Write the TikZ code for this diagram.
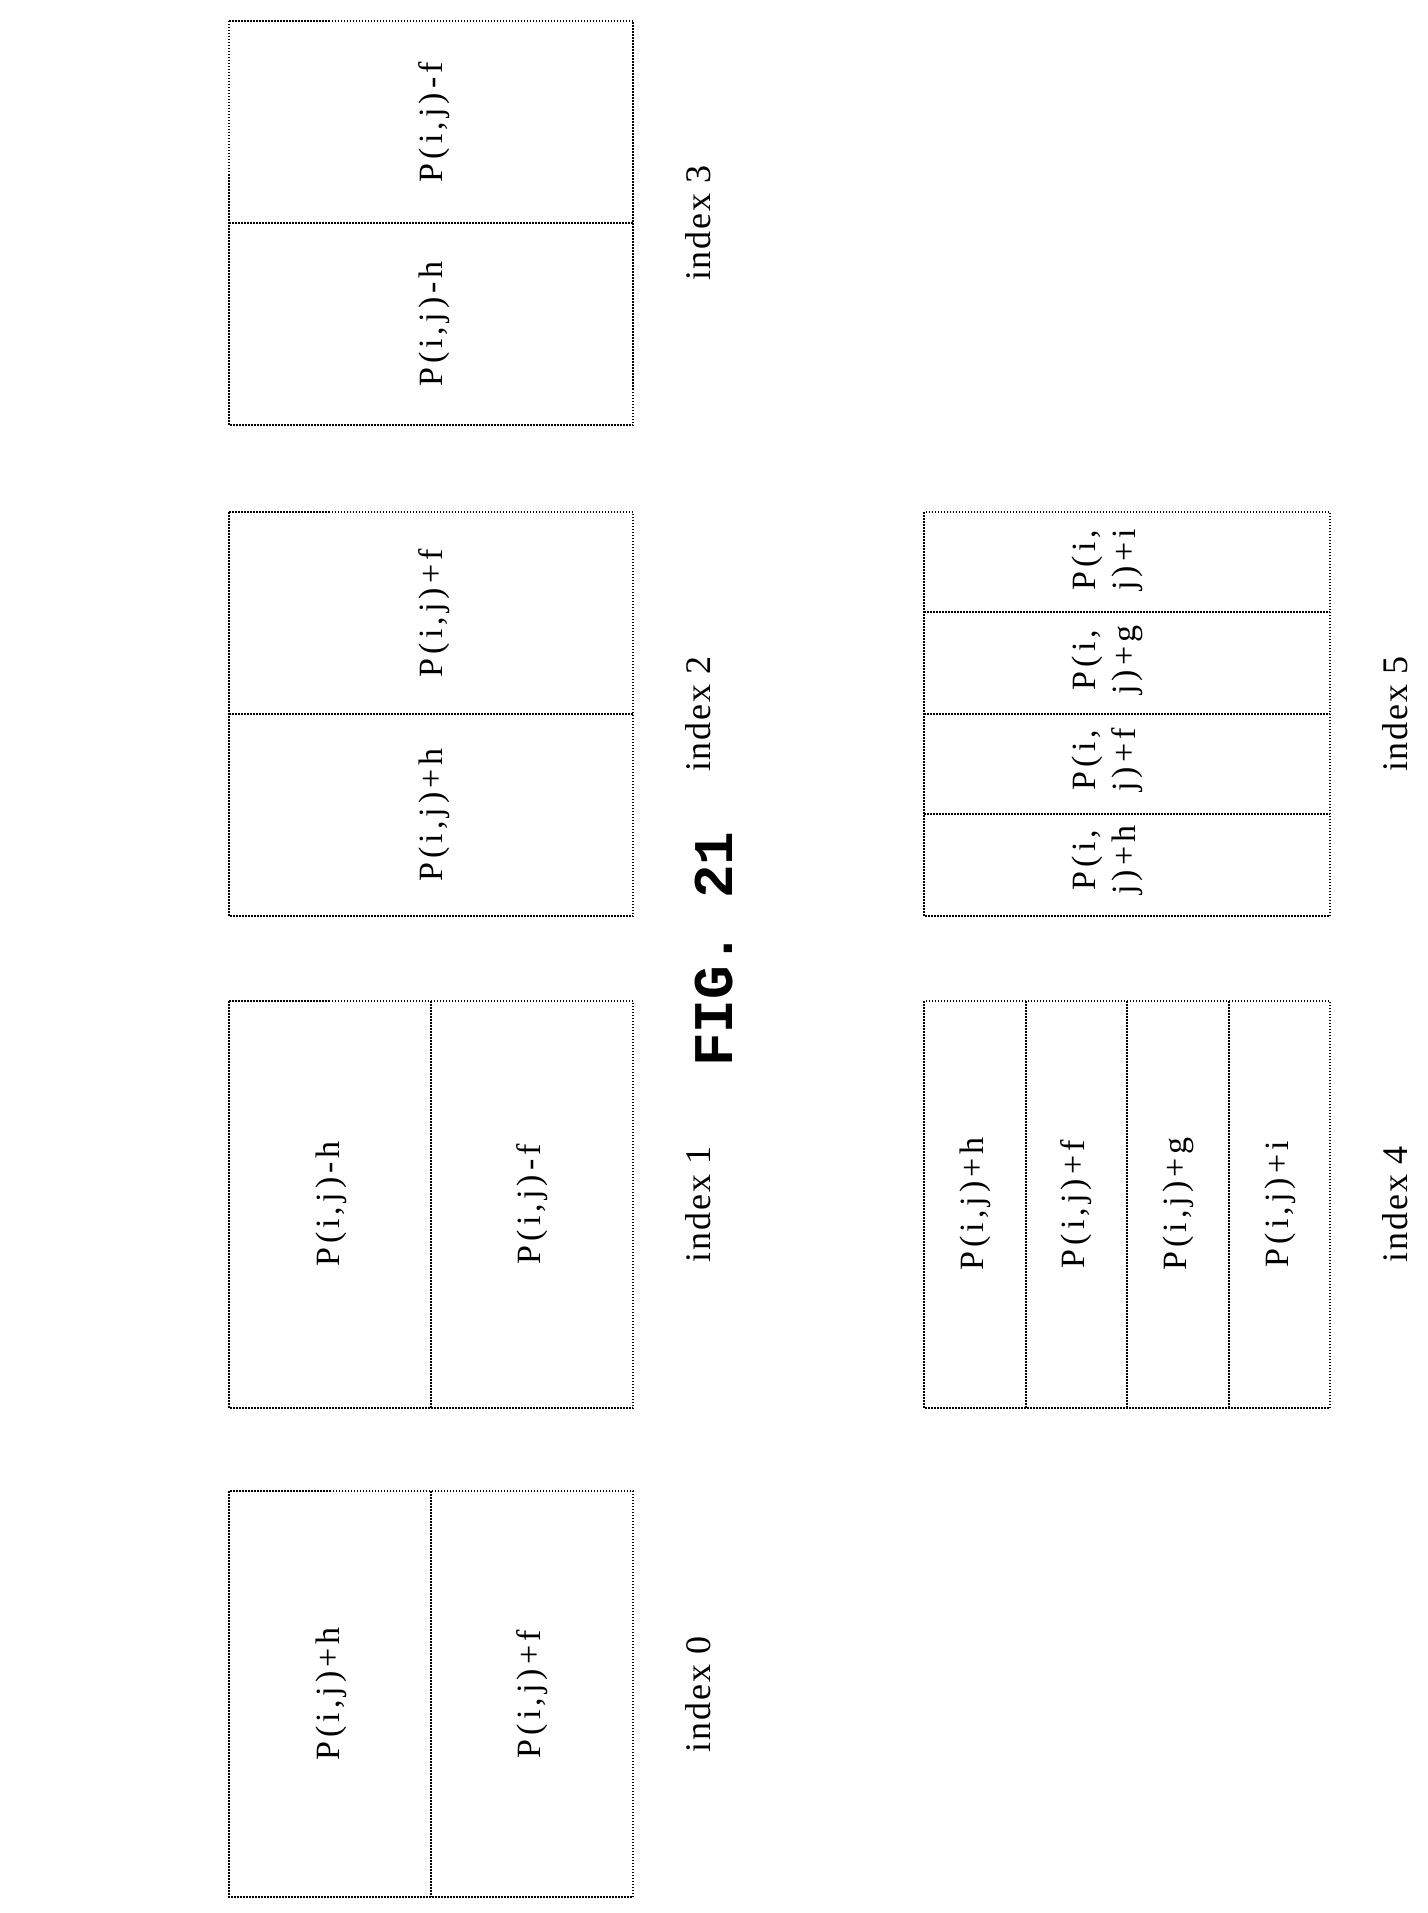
\documentclass[tikz,border=0pt]{standalone}
\usepackage{fontspec}
\setmainfont{Liberation Serif}
\newfontfamily\spaced[LetterSpace=12]{Liberation Serif}
\newfontfamily\labf[LetterSpace=5]{Liberation Serif}
\newfontfamily\monob{Liberation Mono}
\begin{document}
\begin{tikzpicture}[x=1pt,y=-1pt,
  box/.style={draw,line width=1.3pt,dash pattern=on 1.5pt off 1.5pt},
  sep/.style={draw,line width=1.3pt,dash pattern=on 2pt off 1pt},
  txt/.style={rotate=90,font=\spaced\fontsize{34}{38}\selectfont,inner sep=0pt},
  two/.style={txt,align=center,font=\spaced\fontsize{34}{40}\selectfont},
  lab/.style={rotate=90,font=\labf\fontsize{36}{40}\selectfont,inner sep=0pt}]
\useasboundingbox (0,0) rectangle (1427,1913);
\node[rotate=90,font=\monob\bfseries\fontsize{56}{60}\selectfont] (title) at (714,949) {FIG. 21};
% index 0
\draw[box] (229,1491) rectangle (633,1897);
\draw[sep] (431,1491) -- (431,1897);
\node[txt] (a0) at (331,1694) {P(i,j)+h};
\node[txt] (b0) at (532,1694) {P(i,j)+f};
\node[lab] (l0) at (698,1694) {index 0};
% index 1
\draw[box] (229,1001) rectangle (633,1408);
\draw[sep] (431,1001) -- (431,1408);
\node[txt] (a1) at (331,1204) {P(i,j)-h};
\node[txt] (b1) at (532,1204) {P(i,j)-f};
\node[lab] (l1) at (698,1204) {index 1};
% index 2
\draw[box] (229,512) rectangle (633,916);
\draw[box] (229,714) -- (633,714);
\node[txt] (a2) at (434,815) {P(i,j)+h};
\node[txt] (b2) at (434,613) {P(i,j)+f};
\node[lab] (l2) at (698,714) {index 2};
% index 3
\draw[box] (229,21) rectangle (633,425);
\draw[sep] (229,223) -- (633,223);
\node[txt] (a3) at (434,324) {P(i,j)-h};
\node[txt] (b3) at (434,122) {P(i,j)-f};
\node[lab] (l3) at (698,223) {index 3};
% index 4
\draw[box] (924,1001) rectangle (1330,1408);
\draw[sep] (1026,1001) -- (1026,1408);
\draw[box] (1127,1001) -- (1127,1408);
\draw[sep] (1229,1001) -- (1229,1408);
\node[txt] (a4) at (975,1204) {P(i,j)+h};
\node[txt] (b4) at (1076,1204) {P(i,j)+f};
\node[txt] (c4) at (1178,1204) {P(i,j)+g};
\node[txt] (d4) at (1280,1204) {P(i,j)+i};
\node[lab] (l4) at (1395,1204) {index 4};
% index 5
\draw[box] (924,512) rectangle (1330,916);
\draw[box] (924,612) -- (1330,612);
\draw[box] (924,714) -- (1330,714);
\draw[sep] (924,814) -- (1330,814);
\node[two] (a5) at (1107,860) {P(i,\\j)+h};
\node[two] (b5) at (1107,760) {P(i,\\j)+f};
\node[two] (c5) at (1107,660) {P(i,\\j)+g};
\node[two] (d5) at (1107,560) {P(i,\\j)+i};
\node[lab] (l5) at (1395,714) {index 5};
\end{tikzpicture}
\end{document}
